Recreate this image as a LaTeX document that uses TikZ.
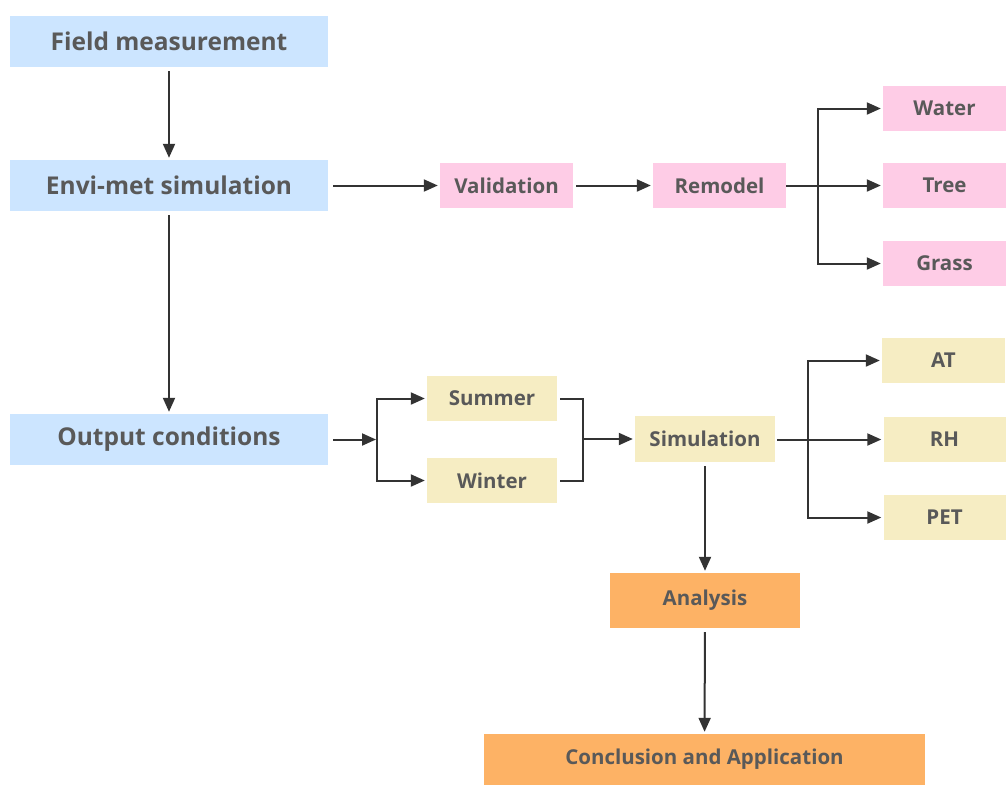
\documentclass[tikz,border=0pt]{standalone}
\usepackage{fontspec}
\setmainfont{Open Sans}
\usetikzlibrary{arrows.meta}
\definecolor{cblue}{HTML}{CCE5FF}
\definecolor{cpink}{HTML}{FECCE6}
\definecolor{cyel}{HTML}{F6EDC3}
\definecolor{corange}{HTML}{FDB265}
\definecolor{ctxt}{HTML}{595959}
\definecolor{cline}{HTML}{333333}
\begin{document}
\begin{tikzpicture}[x=1pt,y=-1pt,
  box/.style={draw=none,inner sep=0pt,text=ctxt,font=\bfseries\fontsize{20.5}{24}\selectfont},
  bigbox/.style={box,fill=cblue,minimum width=318pt,minimum height=51pt,font=\bfseries\fontsize{24.5}{28}\selectfont},
  pinkbox/.style={box,fill=cpink,minimum height=45pt},
  yelbox/.style={box,fill=cyel,minimum height=45pt},
  orbox/.style={box,fill=corange},
  conn/.style={draw=cline,line width=2pt},
  arr/.style={conn,-{Triangle[length=14pt,width=12pt]},shorten >=2pt}
]
\useasboundingbox (0,0) rectangle (1006,785);

\node[bigbox] (FM) at (169,41.5) {Field measurement};
\node[bigbox] (EM) at (169,185.5) {Envi-met simulation};
\node[bigbox] (OC) at (169,439.5) {Output conditions};

\node[pinkbox,minimum width=133pt] (Val) at (506.5,185.5) {Validation};
\node[pinkbox,minimum width=133pt] (Rem) at (719.5,185.5) {Remodel};
\node[pinkbox,minimum width=123pt] (Water) at (944.5,108.5) {Water};
\node[pinkbox,minimum width=123pt] (Tree) at (944.5,185.5) {Tree};
\node[pinkbox,minimum width=123pt] (Grass) at (944.5,263.5) {Grass};

\node[yelbox,minimum width=130pt] (Sum) at (492,398.5) {Summer};
\node[yelbox,minimum width=130pt] (Win) at (492,480.5) {Winter};
\node[yelbox,minimum width=140pt,minimum height=46pt] (Sim) at (705,439) {Simulation};
\node[yelbox,minimum width=123pt] (AT) at (943.5,360.5) {AT};
\node[yelbox,minimum width=122pt] (RH) at (944.5,439.5) {RH};
\node[yelbox,minimum width=122pt] (PET) at (944.5,517.5) {PET};

\node[orbox,minimum width=190pt,minimum height=55pt] (Ana) at (705,600.5) {Analysis};
\node[orbox,minimum width=441pt,minimum height=51pt] (Con) at (704.5,759.5) {Conclusion and Application};

% vertical flow
\draw[arr,shorten <=4pt] (FM) -- (EM);
\draw[arr,shorten <=4pt] (EM) -- (OC);
\draw[arr,shorten <=4pt] (Sim) -- (Ana);
\draw[arr,shorten <=4pt] (Ana) -- (Con);

% top row
\draw[arr,shorten <=5pt] (EM) -- (Val);
\draw[arr,shorten <=3pt] (Val) -- (Rem);
\coordinate (b1) at (818,185.5);
\draw[arr] (Rem.east) -- (Tree.west);
\draw[arr] (b1) |- (Water.west);
\draw[arr] (b1) |- (Grass.west);

% output conditions branch
\coordinate (b2) at (377,439.5);
\draw[arr,shorten <=5pt,shorten >=1pt] (OC.east) -- (b2);
\draw[arr] (b2) |- (Sum.west);
\draw[arr] (b2) |- (Win.west);

% merge
\coordinate (m) at (583,439);
\draw[conn,shorten <=3pt] (Sum.east) -| (m);
\draw[conn,shorten <=3pt] (Win.east) -| (m);
\draw[arr] (m) -- (Sim.west);

% simulation branch
\coordinate (b3) at (808,439.5);
\draw[arr,shorten <=2pt] (Sim.east |- RH.west) -- (RH.west);
\draw[arr] (b3) |- (AT.west);
\draw[arr] (b3) |- (PET.west);
\end{tikzpicture}
\end{document}
